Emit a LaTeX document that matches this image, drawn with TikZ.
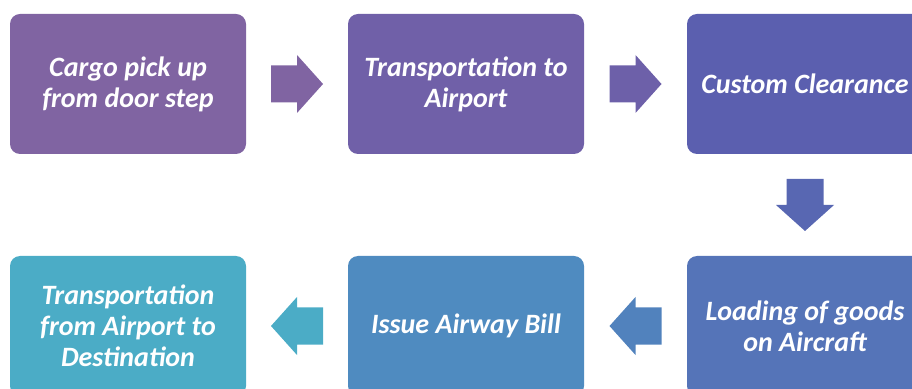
\documentclass[tikz,border=0pt]{standalone}
\usepackage{fontspec}
\setmainfont{Carlito}
\usetikzlibrary{calc}
\definecolor{stepA}{HTML}{8064A2}
\definecolor{stepB}{HTML}{7060A8}
\definecolor{stepC}{HTML}{5B5FAF}
\definecolor{stepD}{HTML}{5574B8}
\definecolor{stepE}{HTML}{4F8BC0}
\definecolor{stepF}{HTML}{4BACC6}
\def\arrLen{26}
\def\arrShaft{18.5}
\def\arrHead{29}
\newcommand{\blockArrow}[3]{
\begin{scope}[shift={#1}, rotate=#2]
	\fill[#3] (-\arrLen,-\arrShaft) -- (0,-\arrShaft) -- (0,-\arrHead) -- (\arrLen,0) -- (0,\arrHead) -- (0,\arrShaft) -- (-\arrLen,\arrShaft) -- cycle;
\end{scope}
}
\tikzset{
	stepbox/.style={rounded corners=10pt, minimum width=236pt, minimum height=140pt, inner sep=0pt,
		text=white, align=center, font=\bfseries\itshape\fontsize{28}{31}\selectfont}
}
\begin{document}
\begin{tikzpicture}[x=1pt, y=1pt]

	%page size
	\useasboundingbox (0,0) rectangle (912,388);
	\clip (0,0) rectangle (912,388);

	%top row, left to right
	\node[stepbox, fill=stepA] (pickup) at (128,304) {Cargo pick up\\from door step};
	\node[stepbox, fill=stepB] (toairport) at (466,304) {Transportation to\\Airport};
	\node[stepbox, fill=stepC] (customs) at (805,304) {Custom Clearance};

	%bottom row, right to left
	\node[stepbox, fill=stepD] (loading) at (805,62) {Loading of goods\\on Aircraft};
	\node[stepbox, fill=stepE] (airwaybill) at (466,62) {Issue Airway Bill};
	\node[stepbox, fill=stepF] (destination) at (128,62) {Transportation\\from Airport to\\Destination};

	%block arrows halfway between the boxes
	\blockArrow{($(pickup.east)!0.5!(toairport.west)$)}{0}{stepA}
	\blockArrow{($(toairport.east)!0.5!(customs.west)$)}{0}{stepB!85!stepC}
	\blockArrow{($(customs.south)!0.5!(loading.north)$)}{-90}{stepC!60!stepD}
	\blockArrow{($(loading.west)!0.5!(airwaybill.east)$)}{180}{stepD!40!stepE}
	\blockArrow{($(airwaybill.west)!0.5!(destination.east)$)}{180}{stepF}

\end{tikzpicture}
\end{document}
